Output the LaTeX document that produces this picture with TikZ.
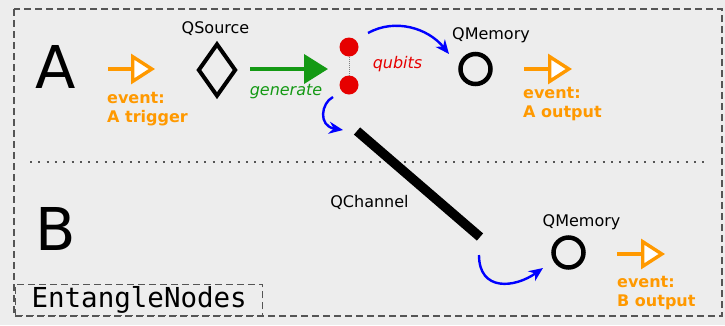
\documentclass[tikz,border=0pt]{standalone}
\usepackage{fontspec}
\setmainfont{DejaVu Sans}
\setmonofont{DejaVu Sans Mono}
\usetikzlibrary{shapes.geometric,arrows.meta}
\definecolor{bgGray}{HTML}{EDEDED}
\definecolor{frameGray}{HTML}{555555}
\definecolor{eventOrange}{HTML}{FF9900}
\definecolor{genGreen}{HTML}{149914}
\definecolor{qubitRed}{HTML}{E60000}

\begin{document}
\begin{tikzpicture}
[x=1pt,y=-1pt,
  frameDecorate/.style={draw=frameGray,line width=1.4pt,dash pattern=on 7pt off 4pt},%
  sepDecorate/.style={draw=frameGray,line width=2pt,dash pattern=on 2pt off 6.3pt},%
  labelDecorate/.style={inner sep=0pt,font=\fontsize{16}{19}\selectfont},%
  bigDecorate/.style={inner sep=0pt,anchor=base,font=\fontsize{59}{60}\selectfont},%
  eventLabel/.style={labelDecorate,anchor=north west,align=left,text=eventOrange,
    font=\fontsize{16}{19}\selectfont\bfseries},%
  eventDecorate/.style={draw=eventOrange,line width=3.4pt,
    -{Triangle[length=24pt,width=30pt,fill=white]}},%
  genDecorate/.style={draw=genGreen,line width=4pt,-{Triangle[length=24pt,width=29pt]}},%
  flowDecorate/.style={draw=blue,line width=2.4pt,-{Stealth[length=14pt,width=12pt]}},%
  sourceDecorate/.style={shape=diamond,draw,line width=4pt,minimum width=38pt,
    minimum height=53pt,inner sep=0pt},%
  memDecorate/.style={shape=circle,draw,line width=4.5pt,minimum size=30pt,inner sep=0pt},%
  qubitDecorate/.style={shape=circle,fill=qubitRed,minimum size=19pt,inner sep=0pt},%
  channelDecorate/.style={draw,line width=9.5pt}]
%% background, frame and separator
\useasboundingbox (0,0) rectangle (725,325);
\fill[bgGray] (0,0) rectangle (725,325);
\draw[frameDecorate] (14,9) rectangle (722,316);
\draw[sepDecorate] (30,162) -- (706,162);
\node (title) at (15,316) [frameDecorate,anchor=south west,minimum width=247pt,
  minimum height=31pt,inner sep=0pt,font=\fontsize{27.5}{30}\selectfont\ttfamily] {EntangleNodes};
%% nodes A and B
\node (nodeA) at (56,88) [bigDecorate] {A};
\node (nodeB) at (56,250) [bigDecorate] {B};
%% components
\node (src) at (217,70) [sourceDecorate] {};
\node (memA) at (475.5,69) [memDecorate] {};
\node (memB) at (568.5,252.5) [memDecorate] {};
\node (qa) at (349,47) [qubitDecorate] {};
\node (qb) at (349,85) [qubitDecorate] {};
\draw[gray,line width=1pt,dash pattern=on 1pt off 1pt] (qa) -- (qb);
\foreach \name/\x/\y/\txt in {
  srcLabel/215.5/33/QSource, memALabel/491/39/QMemory,
  memBLabel/581.5/226/QMemory, chLabel/369.5/207/QChannel}
{
  \node (\name) at (\x,\y) [labelDecorate,anchor=base] {\txt};
}
\node (genLabel) at (286,95) [labelDecorate,anchor=base,text=genGreen,
  font=\fontsize{16}{19}\selectfont\itshape] {generate};
\node (qubitLabel) at (397.5,68) [labelDecorate,anchor=base,text=qubitRed,
  font=\fontsize{16}{19}\selectfont\itshape] {qubits};
%% events
\foreach \name/\xa/\xb/\y in {trigA/108/155/69, outA/524/572/69, outB/617/665/254}
{
  \coordinate (\name s) at (\xa,\y);
  \coordinate (\name e) at (\xb,\y);
  \draw[eventDecorate] (\name s) -- (\name e);
}
\foreach \name/\x/\y/\txt in {
  trigALabel/107/92/A trigger, outALabel/523/87/A output, outBLabel/617/276/B output}
{
  \node (\name) at (\x,\y) [eventLabel] {event:\\\txt};
}
%% generation, channel and qubit flow
\coordinate (genS) at (250,69);
\coordinate (genE) at (328,69);
\draw[genDecorate] (genS) -- (genE);
\coordinate (chA) at (357,131);
\coordinate (chB) at (480,237);
\draw[channelDecorate] (chA) -- (chB);
\coordinate (f1s) at (368,33);
\coordinate (f1e) at (449,54);
\coordinate (f2s) at (333,97);
\coordinate (f2e) at (343,130);
\coordinate (f3s) at (479,255);
\coordinate (f3e) at (543,268);
\draw[flowDecorate] (f1s) .. controls (395,18) and (428,28) .. (f1e);
\draw[flowDecorate] (f2s) .. controls (321,103) and (318,126) .. (f2e);
\draw[flowDecorate] (f3s) .. controls (479,292) and (515,288) .. (f3e);
\end{tikzpicture}
\end{document}
